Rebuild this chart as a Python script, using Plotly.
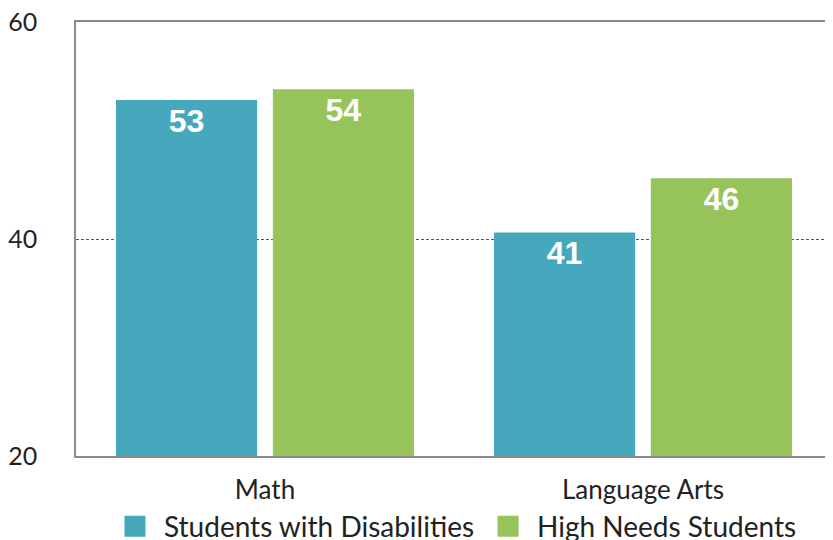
import plotly.graph_objects as go

categories = ["Math", "Language Arts"]
series_names = ["Students with Disabilities", "High Needs Students"]
disabilities = [52.8, 40.6]
high_needs = [53.8, 45.6]
disabilities_labels = ["53", "41"]
high_needs_labels = ["54", "46"]
y_ticks = [20, 40, 60]

colors = ["#46A8BC", "#97C45A"]

fig = go.Figure()
for name, vals, labels, col in [
    (series_names[0], disabilities, disabilities_labels, colors[0]),
    (series_names[1], high_needs, high_needs_labels, colors[1]),
]:
    fig.add_trace(go.Bar(
        x=categories, y=vals, name=name, text=labels,
        textposition="inside", insidetextanchor="end",
        textfont=dict(family="Liberation Sans", size=32, color="white", weight="bold"),
        marker=dict(color=col, line=dict(width=0)),
        showlegend=False, hoverinfo="skip",
    ))
    fig.add_trace(go.Scatter(
        x=[None], y=[None], mode="markers", name=name,
        marker=dict(symbol="square", size=16, color=col, line=dict(color=col, width=5)),
    ))

# page body has an 8px margin, so the figure is sized to fit the window
fig.update_layout(
    width=825, height=532,
    margin=dict(l=68, r=1, t=14, b=84, autoexpand=False),
    paper_bgcolor="white", plot_bgcolor="white",
    barmode="group", bargap=0.17, bargroupgap=0.1,
    font=dict(family="Lato", color="#222222"),
    uniformtext=dict(minsize=8, mode="show"),
    legend=dict(
        orientation="h", xanchor="center", x=0.5, yanchor="top", y=-0.105,
        font=dict(size=28, color="#222222"), itemwidth=48,
        bgcolor="rgba(0,0,0,0)", traceorder="normal",
    ),
)
fig.update_xaxes(
    showline=True, mirror=True, linecolor="#8c8c8c", linewidth=1.5,
    ticks="", tickfont=dict(size=26, color="#222222"), ticklabelstandoff=10,
    automargin=False,
)
fig.update_yaxes(
    range=[20, 60], tickvals=y_ticks, showline=True, mirror=True,
    linecolor="#8c8c8c", linewidth=1.5, ticks="",
    showgrid=True, gridcolor="#555555", gridwidth=1, griddash="3px,2px",
    zeroline=False, tickfont=dict(size=25, color="#222222"), ticklabelstandoff=32,
    automargin=False, ticklabeloverflow="allow",
)

fig.write_html("out.html")
